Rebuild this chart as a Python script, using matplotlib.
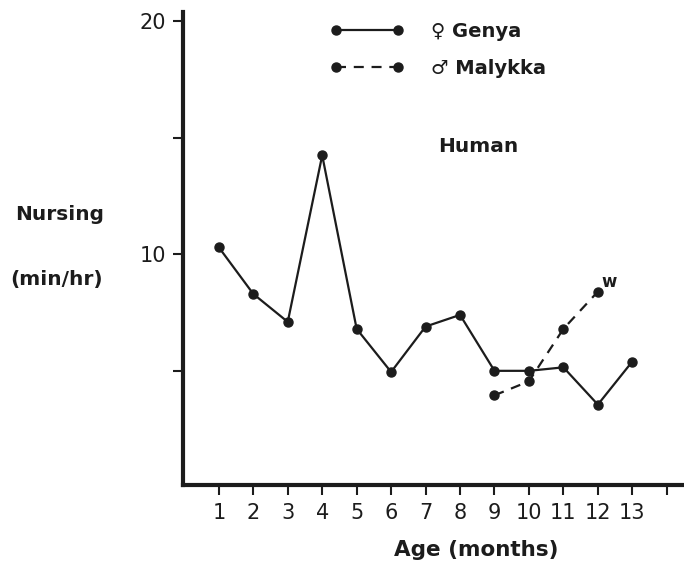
import matplotlib
matplotlib.use("Agg")
import matplotlib.pyplot as plt
from matplotlib.lines import Line2D

months = [1, 2, 3, 4, 5, 6, 7, 8, 9, 10, 11, 12, 13]
genya = [10.3, 8.3, 7.1, 14.25, 6.8, 4.95, 6.9, 7.4, 5.0, 5.0, 5.15, 3.55, 5.4]
malykka_months = [9, 10, 11, 12]
malykka = [3.95, 4.55, 6.8, 8.4]
x_ticks = [1, 2, 3, 4, 5, 6, 7, 8, 9, 10, 11, 12, 13, 14]
x_labels = ["1", "2", "3", "4", "5", "6", "7", "8", "9", "10", "11", "12", "13", ""]
y_ticks = [5, 10, 15, 20]
y_labels = ["", "10", "", "20"]

INK = "#1c1c1c"
plt.rcParams['font.family'] = ['DejaVu Sans']

W, H = 684, 565
fig = plt.figure(figsize=(W / 100, H / 100), dpi=100)
fig.patch.set_facecolor("white")
left, right, bottom, top = 183, 684, 485, 12
ax = fig.add_axes([left / W, 1 - bottom / H, (right - left) / W, (bottom - top) / H])

ax.plot(months, genya, color=INK, lw=1.6, marker="o", ms=6.5, mfc=INK, mec=INK)
ax.plot(malykka_months, malykka, color=INK, lw=1.6, ls=(0, (4.5, 3.5)),
        marker="o", ms=6.5, mfc=INK, mec=INK)

ax.set_xlim(-0.04, 14.5)
ax.set_ylim(0.1, 20.4)
ax.set_xticks(x_ticks)
ax.set_xticklabels(x_labels)
ax.set_yticks(y_ticks)
ax.set_yticklabels(y_labels)
for s in ["top", "right"]:
    ax.spines[s].set_visible(False)
for s in ["left", "bottom"]:
    ax.spines[s].set_linewidth(3.0)
    ax.spines[s].set_color(INK)
ax.tick_params(axis="both", direction="out", length=7, width=1.5, color=INK,
               labelcolor=INK, labelsize=15)
ax.tick_params(axis="x", pad=6)
ax.tick_params(axis="y", pad=5)

ax.text(12.1, 8.6, "w", fontsize=12, fontweight="bold", color=INK)
ax.text(7.35, 14.4, "Human", fontsize=14.5, fontweight="bold", color=INK)

fig.text(60 / W, 1 - 215 / H, "Nursing", fontsize=14.5, fontweight="bold", color=INK,
         ha="center", va="center")
fig.text(57 / W, 1 - 280 / H, "(min/hr)", fontsize=14.5, fontweight="bold", color=INK,
         ha="center", va="center")
fig.text(476 / W, 1 - 550 / H, "Age (months)", fontsize=15.5, fontweight="bold", color=INK,
         ha="center", va="center")

handles = [
    Line2D([], [], color=INK, lw=1.6, marker="o", ms=6.5, mfc=INK, mec=INK),
    Line2D([], [], color=INK, lw=1.6, ls=(0, (4.5, 3.5)), marker="o", ms=6.5, mfc=INK, mec=INK),
]
leg = fig.legend(handles, ["\u2640 Genya", "\u2642 Malykka"], loc="upper left",
                 bbox_to_anchor=(330 / W, 1 - 22 / H), frameon=False, numpoints=2,
                 handlelength=3.8, handletextpad=1.4, labelspacing=0.9,
                 borderpad=0, borderaxespad=0,
                 prop={"size": 14, "weight": "bold"})
for t in leg.get_texts():
    t.set_color(INK)

fig.savefig("out.png", dpi=100, facecolor="white")
